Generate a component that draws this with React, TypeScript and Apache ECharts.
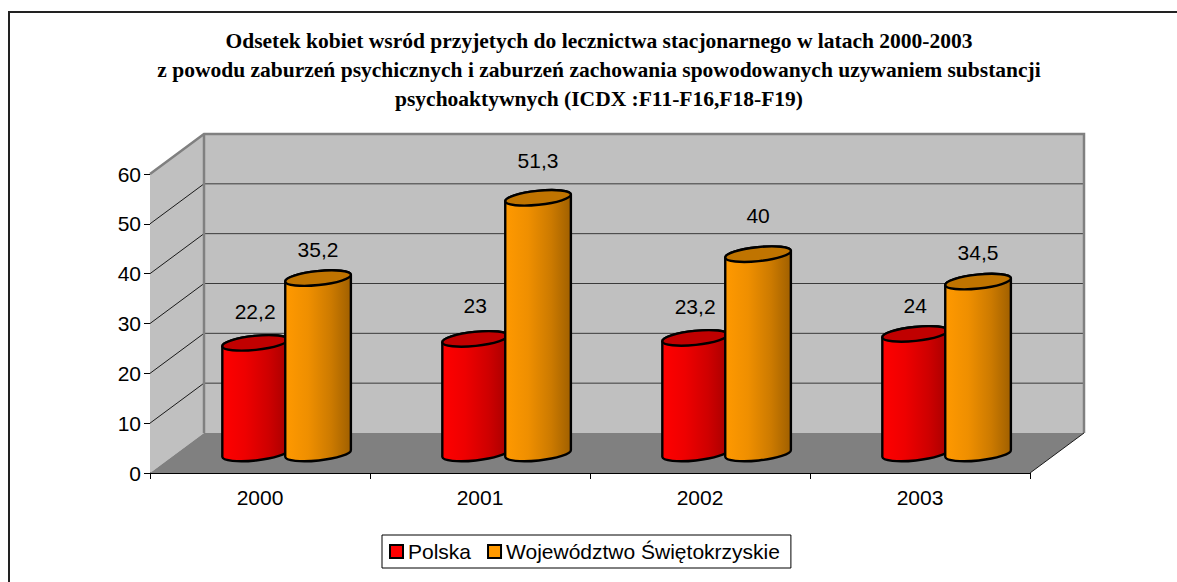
import React, { useEffect, useRef } from "react";
import * as echarts from "echarts";

const years = ["2000", "2001", "2002", "2003"];
const polska = [22.2, 23, 23.2, 24];
const swietokrzyskie = [35.2, 51.3, 40, 34.5];
const polskaLabels = ["22,2", "23", "23,2", "24"];
const swietokrzyskieLabels = ["35,2", "51,3", "40", "34,5"];
const seriesNames = ["Polska", "Województwo Świętokrzyskie"];
const yTicks = [0, 10, 20, 30, 40, 50, 60];
const titleLines = [
  "Odsetek kobiet wsród przyjetych do lecznictwa stacjonarnego w latach 2000-2003",
  "z powodu zaburzeń psychicznych i zaburzeń zachowania spowodowanych uzywaniem substancji",
  "psychoaktywnych (ICDX :F11-F16,F18-F19)",
];

// Label lift above the cap centre, per point (placement only)
const polskaLift = [31, 33, 31, 28];
const swietokrzyskieLift = [29, 37, 39, 29];

const DEPTH_X = 54;
const DEPTH_Y = 40;
const BAR_DX = 26.6;
const BAR_DY = 19.5;
const RX = 33;
const RY = 7;
const ROT = -6;
const KAPPA = 0.5523;

const AXIS_FONT = "'Liberation Sans', Arial, sans-serif";

function backdrop(_params: any, api: any) {
  const [x0, y0] = api.coord([0, 0]);
  const band = api.size([1, 0])[0];
  const left = x0 - band / 2;
  const right = left + band * years.length;
  const top = api.coord([0, 60])[1];
  const bottom = y0;
  const grey = "#808080";
  const children: any[] = [
    {
      type: "polygon",
      shape: { points: [[left + DEPTH_X, top - DEPTH_Y], [right + DEPTH_X, top - DEPTH_Y], [right + DEPTH_X, bottom - DEPTH_Y], [left + DEPTH_X, bottom - DEPTH_Y]] },
      style: { fill: "#c0c0c0", stroke: "none" },
    },
    {
      type: "polygon",
      shape: { points: [[left, top], [left + DEPTH_X, top - DEPTH_Y], [left + DEPTH_X, bottom - DEPTH_Y], [left, bottom]] },
      style: { fill: "#c0c0c0", stroke: "none" },
    },
    {
      type: "polygon",
      shape: { points: [[left, bottom], [right, bottom], [right + DEPTH_X, bottom - DEPTH_Y], [left + DEPTH_X, bottom - DEPTH_Y]] },
      style: { fill: grey, stroke: "none" },
    },
  ];
  yTicks.forEach((t) => {
    const y = api.coord([0, t])[1];
    if (t > 0 && t < 60) {
      children.push({
        type: "line",
        shape: { x1: left + DEPTH_X, y1: y - DEPTH_Y, x2: right + DEPTH_X, y2: y - DEPTH_Y },
        style: { stroke: "#3a3a3a", lineWidth: 1 },
      });
      children.push({
        type: "line",
        shape: { x1: left, y1: y, x2: left + DEPTH_X, y2: y - DEPTH_Y },
        style: { stroke: "#1a1a1a", lineWidth: 1 },
      });
    }
  });
  children.push({
    type: "polyline",
    shape: { points: [[left, top], [left + DEPTH_X, top - DEPTH_Y], [right + DEPTH_X, top - DEPTH_Y], [right + DEPTH_X, bottom - DEPTH_Y]] },
    style: { stroke: grey, lineWidth: 2.5, fill: "none" },
  });
  children.push({
    type: "line",
    shape: { x1: left + DEPTH_X, y1: top - DEPTH_Y, x2: left + DEPTH_X, y2: bottom - DEPTH_Y },
    style: { stroke: grey, lineWidth: 2.5 },
  });
  children.push({
    type: "line",
    shape: { x1: right, y1: bottom, x2: right + DEPTH_X, y2: bottom - DEPTH_Y },
    style: { stroke: "#1a1a1a", lineWidth: 1 },
  });
  return { type: "group", children };
}

// A point on a tilted ellipse, given in the ellipse's own axes
function tilted(cx: number, cy: number, u: number, v: number) {
  const a = (ROT * Math.PI) / 180;
  const x = cx + u * Math.cos(a) - v * Math.sin(a);
  const y = cy + u * Math.sin(a) + v * Math.cos(a);
  return `${x} ${y}`;
}

// Half an ellipse between its two long-axis ends; side = -1 upper, +1 lower, dir = 1 left-to-right
function halfEllipse(cx: number, cy: number, side: number, dir: number) {
  const k = KAPPA;
  const p = (u: number, v: number) => tilted(cx, cy, u * dir, v * side);
  return (
    `C ${p(-RX, k * RY)} ${p(-k * RX, RY)} ${p(0, RY)} ` +
    `C ${p(k * RX, RY)} ${p(RX, k * RY)} ${p(RX, 0)} `
  );
}

function cylinder(
  sign: number,
  sideStops: [number, string][],
  capColor: string,
  labels: string[],
  lifts: number[],
) {
  return (params: any, api: any) => {
    const i = api.value(0);
    const v = api.value(1);
    const band = api.size([1, 0])[0];
    const [cx0, yTop0] = api.coord([i, v]);
    const yBase0 = api.coord([i, 0])[1];
    const cx = cx0 + BAR_DX + sign * band * 0.143;
    const yTop = yTop0 - BAR_DY;
    const yBase = yBase0 - BAR_DY;
    const side =
      `M ${tilted(cx, yTop, -RX, 0)} L ${tilted(cx, yBase, -RX, 0)} ` +
      halfEllipse(cx, yBase, 1, 1) +
      `L ${tilted(cx, yTop, RX, 0)} ` +
      halfEllipse(cx, yTop, -1, -1) +
      "Z";
    const cap =
      `M ${tilted(cx, yTop, -RX, 0)} ` +
      halfEllipse(cx, yTop, -1, 1) +
      halfEllipse(cx, yTop, 1, -1) +
      "Z";
    return {
      type: "group",
      children: [
        {
          type: "path",
          shape: { pathData: side },
          style: {
            fill: new echarts.graphic.LinearGradient(
              0, 0, 1, 0,
              sideStops.map(([offset, color]) => ({ offset, color })),
            ),
            stroke: "#000",
            lineWidth: 2.4,
            lineJoin: "round",
          },
        },
        {
          type: "path",
          shape: { pathData: cap },
          style: { fill: capColor, stroke: "#000", lineWidth: 2.4, lineJoin: "round" },
        },
        {
          type: "text",
          style: {
            x: cx,
            y: yTop - lifts[params.dataIndex],
            text: labels[params.dataIndex],
            fill: "#000",
            font: `21px ${AXIS_FONT}`,
            align: "center",
            verticalAlign: "middle",
          },
        },
      ],
    };
  };
}

const redStops: [number, string][] = [
  [0, "#ff0000"], [0.35, "#ee0000"], [0.7, "#cf0000"], [1, "#a80000"],
];
const orangeStops: [number, string][] = [
  [0, "#ff9900"], [0.35, "#ef8f00"], [0.7, "#cc7a00"], [1, "#a06000"],
];

export default function App() {
  const ref = useRef<HTMLDivElement>(null);
  useEffect(() => {
    const chart = echarts.init(ref.current!, null, { renderer: "svg" });
    chart.setOption({
      animation: false,
      backgroundColor: "#ffffff",
      title: {
        text: titleLines.join("\n"),
        left: 594,
        top: 21,
        textAlign: "center",
        textStyle: {
          fontFamily: "'Liberation Serif', 'Times New Roman', serif",
          fontWeight: "bold",
          fontSize: 21.5,
          lineHeight: 29,
          color: "#000",
        },
      },
      legend: {
        data: seriesNames,
        left: 382,
        top: 535,
        orient: "horizontal",
        padding: [6, 11, 6, 7],
        itemGap: 16,
        itemWidth: 13,
        itemHeight: 13,
        backgroundColor: "#fff",
        borderColor: "#000",
        borderWidth: 1,
        borderRadius: 0,
        icon: "rect",
        itemStyle: { borderColor: "#000", borderWidth: 2 },
        textStyle: { fontFamily: AXIS_FONT, fontSize: 21, color: "#000" },
      },
      grid: { left: 150, right: 147, top: 174, bottom: 109, containLabel: false },
      xAxis: {
        type: "category",
        data: years,
        boundaryGap: true,
        axisLine: { show: true, lineStyle: { color: "#000", width: 1 } },
        axisTick: { show: true, length: 6, lineStyle: { color: "#000" }, alignWithLabel: false },
        axisLabel: { color: "#000", fontFamily: AXIS_FONT, fontSize: 21, margin: 14 },
        splitLine: { show: false },
      },
      yAxis: {
        type: "value",
        min: 0,
        max: 60,
        interval: 10,
        axisLine: { show: true, lineStyle: { color: "#000", width: 1 } },
        axisTick: { show: true, length: 6, lineStyle: { color: "#000" } },
        axisLabel: { color: "#000", fontFamily: AXIS_FONT, fontSize: 21, margin: 9, padding: [2, 0, 0, 0] },
        splitLine: { show: false },
      },
      graphic: [
        {
          type: "polyline",
          shape: { points: [[9, 582], [9, 12], [1177, 12]] },
          style: { stroke: "#222", lineWidth: 2, fill: "none" },
          silent: true,
        },
      ],
      series: [
        {
          type: "custom",
          name: "tło",
          renderItem: backdrop,
          data: [[0, 0]],
          encode: { x: 0, y: 1 },
          silent: true,
          clip: false,
        },
        {
          type: "custom",
          name: seriesNames[0],
          itemStyle: { color: "#ff0000" },
          renderItem: cylinder(-1, redStops, "#c00000", polskaLabels, polskaLift),
          data: polska.map((v, i) => [i, v]),
          encode: { x: 0, y: 1 },
          clip: false,
        },
        {
          type: "custom",
          name: seriesNames[1],
          itemStyle: { color: "#ff9900" },
          renderItem: cylinder(1, orangeStops, "#c07400", swietokrzyskieLabels, swietokrzyskieLift),
          data: swietokrzyskie.map((v, i) => [i, v]),
          encode: { x: 0, y: 1 },
          clip: false,
        },
      ],
    });
    return () => chart.dispose();
  }, []);
  return (
    <div
      ref={ref}
      style={{ position: "absolute", left: 0, top: 0, width: 1177, height: 582 }}
    />
  );
}
